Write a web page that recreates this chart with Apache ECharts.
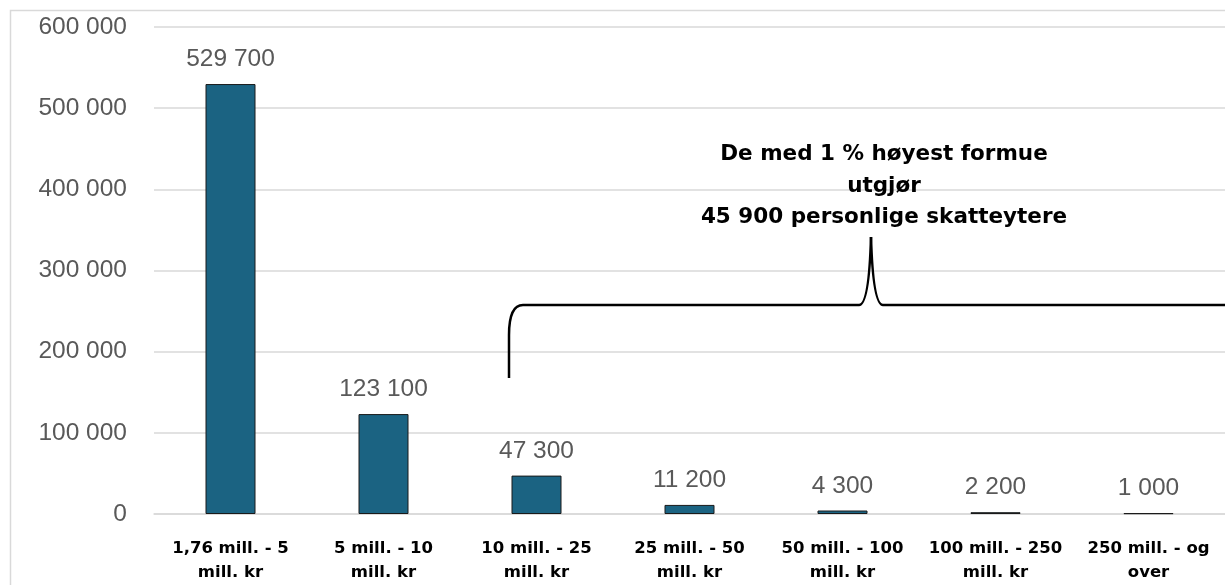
<!DOCTYPE html>
<html><head><meta charset="utf-8">
<script src="https://cdn.jsdelivr.net/npm/echarts@6/dist/echarts.min.js"></script>
<style>html,body{margin:0;padding:0;background:#fff}#c{width:1225px;height:585px}</style>
</head><body><div id="c"></div>
<script>
const categories = ["1,76 mill. - 5\nmill. kr","5 mill. - 10\nmill. kr","10 mill. - 25\nmill. kr","25 mill. - 50\nmill. kr","50 mill. - 100\nmill. kr","100 mill. - 250\nmill. kr","250 mill. - og\nover"];
const values = [529700, 123100, 47300, 11200, 4300, 2200, 1000];
const yTicks = [0, 100000, 200000, 300000, 400000, 500000, 600000];
const annotation = "De med 1 % høyest formue\nutgjør\n45 900 personlige skatteytere";

function fmt(v){ return String(v).replace(/\B(?=(\d{3})+(?!\d))/g, ' '); }

const chart = echarts.init(document.getElementById('c'));
chart.setOption({
  animation:false,
  grid:{left:154, right:-3, top:27, bottom:69},
  xAxis:{type:'category', data:categories,
    axisLine:{show:true, lineStyle:{color:'#d9d9d9', width:1.5}},
    axisTick:{show:false},
    axisLabel:{color:'#000', fontFamily:'DejaVu Sans', fontWeight:'bold', fontSize:16.5, lineHeight:24, margin:23, interval:0}},
  yAxis:{type:'value', min:0, max:600000, interval:100000,
    axisLine:{show:false}, axisTick:{show:false},
    splitLine:{lineStyle:{color:'#d9d9d9', width:1.5}},
    axisLabel:{color:'#595959', fontFamily:'Liberation Sans', fontSize:24.5, margin:27, formatter:fmt}},
  series:[{type:'bar', data:values, barWidth:50,
    itemStyle:{color:'#1b6382', borderColor:'#1a1a1a', borderWidth:1},
    label:{show:true, position:'top', distance:12, color:'#595959', fontFamily:'Liberation Sans', fontSize:24.5, formatter:p=>fmt(p.value)}}]
});

const lx=509, ly=378, hy=305, tx=871, ty=237, rx=1230;
const st = {fill:'none', stroke:'#000', lineWidth:2.5};
chart.setOption({graphic:[
  {type:'rect', shape:{x:10.5,y:10.5,width:1400,height:800}, style:{fill:'none', stroke:'#d9d9d9', lineWidth:1.5}, silent:true},
  {type:'line', shape:{x1:lx,y1:ly,x2:lx,y2:hy+30}, style:st},
  {type:'bezierCurve', shape:{x1:lx,y1:hy+30,cpx1:lx,cpy1:hy,x2:lx+14,y2:hy}, style:st},
  {type:'line', shape:{x1:lx+14,y1:hy,x2:tx-12,y2:hy}, style:st},
  {type:'bezierCurve', shape:{x1:tx-12,y1:hy,cpx1:tx-2,cpy1:hy,x2:tx,y2:ty}, style:st},
  {type:'bezierCurve', shape:{x1:tx,y1:ty,cpx1:tx+2,cpy1:hy,x2:tx+12,y2:hy}, style:st},
  {type:'line', shape:{x1:tx+12,y1:hy,x2:rx,y2:hy}, style:st},
  {type:'text', x:884, y:139, style:{text:annotation, fill:'#000', font:'bold 21.5px "DejaVu Sans"', align:'center', lineHeight:31.5}}
]});
</script></body></html>
